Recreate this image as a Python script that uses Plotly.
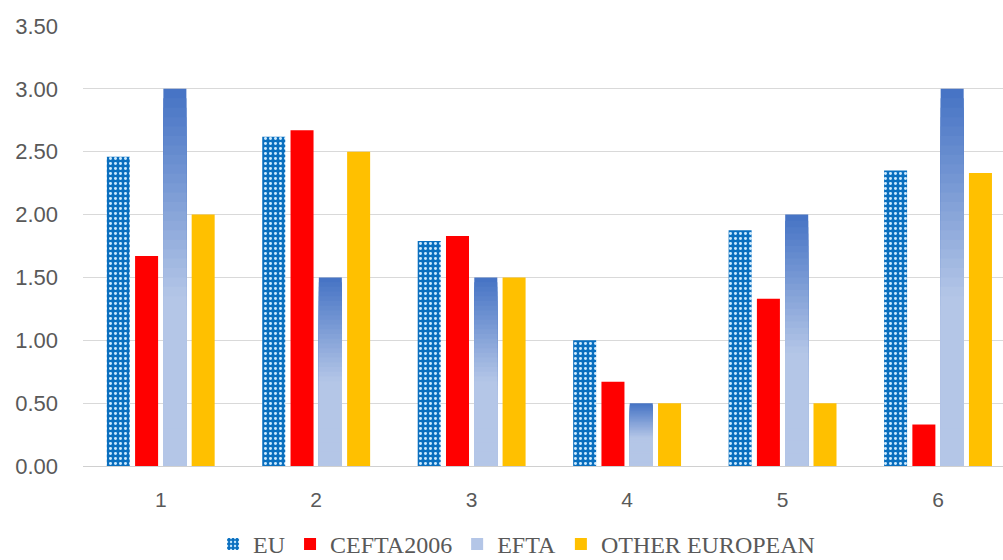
import plotly.graph_objects as go

categories = [1, 2, 3, 4, 5, 6]
eu = [2.46, 2.62, 1.79, 1.00, 1.875, 2.35]
cefta = [1.67, 2.67, 1.83, 0.67, 1.33, 0.33]
efta = [3.00, 1.50, 1.50, 0.50, 2.00, 3.00]
other_european = [2.00, 2.50, 1.50, 0.50, 0.50, 2.33]
y_ticks = [0.0, 0.5, 1.0, 1.5, 2.0, 2.5, 3.0, 3.5]

BAR_W = 0.148   # bar width in category units
PITCH = 0.182   # centre-to-centre distance of bars within a group


def offset(slot):
    # left edge of the bar in slot 0..3, relative to the category centre
    return (slot - 1.5) * PITCH - BAR_W / 2


def mix(c1, c2, t):
    return "rgb({},{},{})".format(*[round(a + (b - a) * t) for a, b in zip(c1, c2)])


DARK = (68, 114, 196)
LIGHT = (180, 198, 231)

fig = go.Figure()

fig.add_trace(go.Bar(
    x=categories, y=eu, name="EU", width=BAR_W, offset=offset(0),
    marker=dict(color="#0A6FBF", line=dict(width=0),
                pattern=dict(shape=".", fgcolor="#CDEBFF", bgcolor="#0A6FBF",
                             size=5, solidity=0.28, fillmode="replace")),
))
fig.add_trace(go.Bar(
    x=categories, y=cefta, name="CEFTA2006", width=BAR_W, offset=offset(1),
    marker=dict(color="#FF0000", line=dict(width=0)),
))

# EFTA bars: shaded from dark at the top to light towards the base.
# Layers are drawn tallest first, each one a shorter copy of the bar,
# so only the top band of each layer remains visible.
N = 40
for k in range(N):
    frac_top = (k + 0.5) / N               # 0 at the top, 1 at the base
    t = min(frac_top / 0.55, 1.0)
    fig.add_trace(go.Bar(
        x=categories,
        y=[v * (1 - k / N) for v in efta],
        name="EFTA", legendgroup="efta", showlegend=(k == N - 1),
        width=BAR_W, offset=offset(2),
        marker=dict(color=mix(DARK, LIGHT, t), line=dict(width=0)),
    ))

fig.add_trace(go.Bar(
    x=categories, y=other_european, name="OTHER EUROPEAN", width=BAR_W, offset=offset(3),
    marker=dict(color="#FFC000", line=dict(width=0)),
))

fig.update_layout(
    width=1003, height=560,
    margin=dict(l=83, r=0, t=26, b=94),
    barmode="overlay",
    plot_bgcolor="white", paper_bgcolor="white",
    showlegend=True,
    legend=dict(orientation="h", xref="container", x=0.515, xanchor="center",
                yref="container", y=0.028, yanchor="middle",
                font=dict(family="'Liberation Serif', 'DejaVu Serif', serif",
                          size=24, color="#595959"),
                itemwidth=30, traceorder="normal", tracegroupgap=0),
    font=dict(family="Liberation Sans", color="#595959"),
)
fig.update_xaxes(
    range=[0.5, 6.418], tickmode="array", tickvals=categories,
    ticktext=[str(c) for c in categories],
    showgrid=False, zeroline=False, showline=False,
    tickfont=dict(size=21, color="#595959"), ticklabelstandoff=19,
)
fig.update_yaxes(
    range=[0, 3.5], tickmode="array", tickvals=y_ticks,
    ticktext=[f"{v:.2f}" for v in y_ticks],
    showgrid=True, gridcolor="#D9D9D9", gridwidth=1,
    zeroline=True, zerolinecolor="#D0D0D0", zerolinewidth=1,
    tickfont=dict(size=22, color="#595959"), ticklabelstandoff=24,
)

fig.write_html("out.html")
